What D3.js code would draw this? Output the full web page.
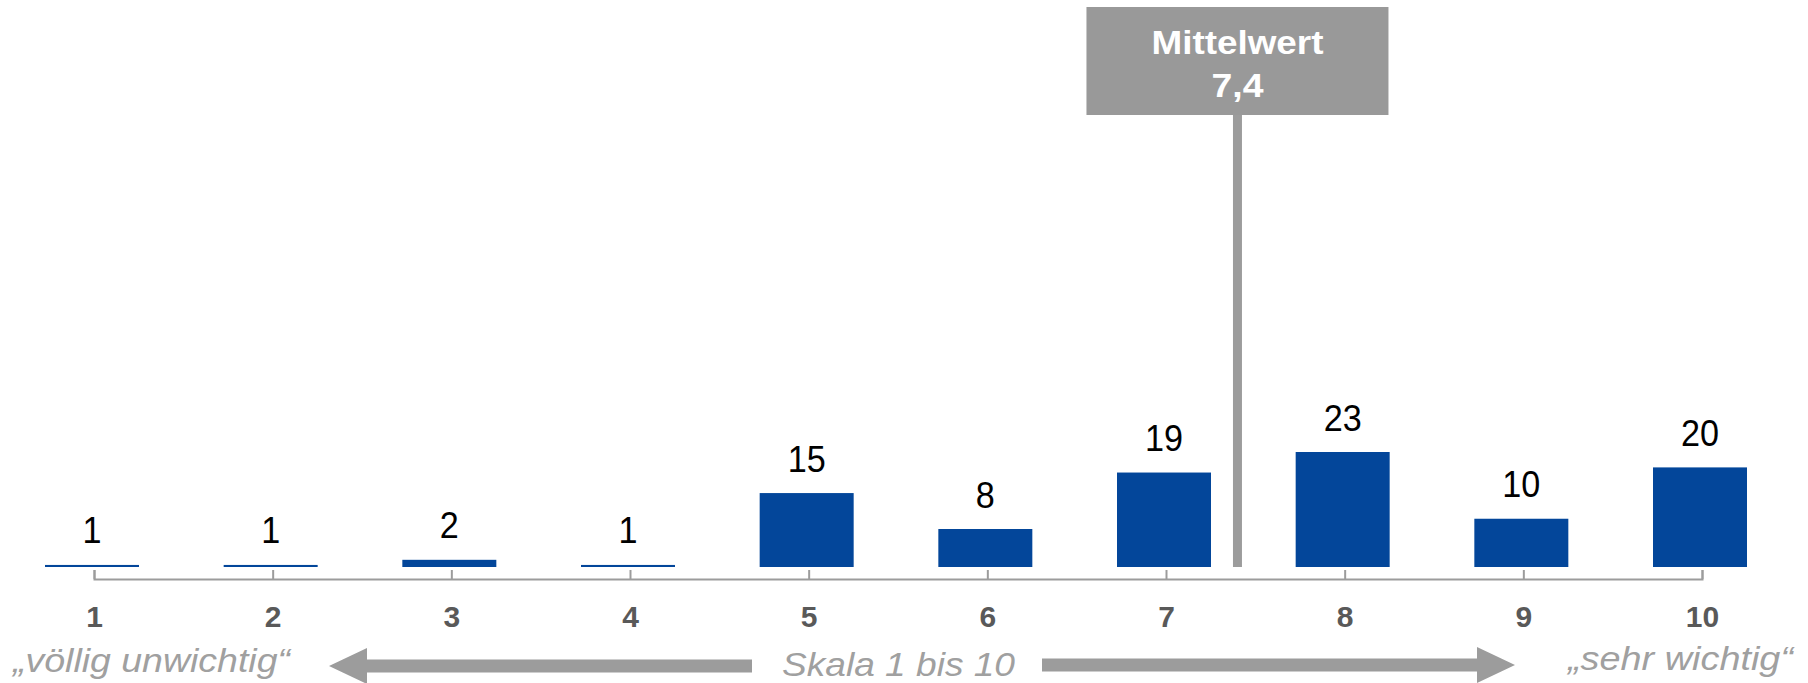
<!DOCTYPE html>
<html>
<head>
<meta charset="utf-8">
<script src="https://cdn.jsdelivr.net/npm/d3@7"></script>
<style>
    body { margin: 0; background: #fff; }
    text { font-family: "Liberation Sans", Arial, sans-serif; }
</style>
</head>
<body>
<div id="chart"></div>
<script>
const categories = [1, 2, 3, 4, 5, 6, 7, 8, 9, 10];
const values = [1, 1, 2, 1, 15, 8, 19, 23, 10, 20];
const meanValue = 7.4;
const meanLines = ["Mittelwert", "7,4"];
const scaleLeft = "\u201Evöllig unwichtig\u201C";
const scaleMid = "Skala 1 bis 10";
const scaleRight = "\u201Esehr wichtig\u201C";

const width = 1808;
const height = 683;
const baseY = 567;
const axisY = 579;
const barW = 94;
const blue = "#03469a";
const grey = "#9c9c9c";

const svg = d3.select("#chart")
    .append("svg")
    .attr("width", width)
    .attr("height", height);

const x = d3.scaleLinear().domain([1, 10]).range([94, 1702]);
// bars in the original start a bit above zero
const y = d3.scaleLinear().domain([0.6, 23]).range([baseY, 452]);

// bars
svg.selectAll("rect.bar")
    .data(values)
    .join("rect")
    .attr("class", "bar")
    .attr("x", (d, i) => x(categories[i]) - 2 - barW / 2)
    .attr("width", barW)
    .attr("y", d => y(d))
    .attr("height", d => baseY - y(d))
    .attr("fill", blue);

// value labels
svg.selectAll("text.val")
    .data(values)
    .join("text")
    .attr("class", "val")
    .attr("x", (d, i) => x(categories[i]) - 2)
    .attr("y", d => y(d) - 21.5)
    .attr("text-anchor", "middle")
    .attr("font-size", 36)
    .attr("fill", "#000")
    .attr("textLength", d => String(d).length * 19)
    .attr("lengthAdjust", "spacingAndGlyphs")
    .text(d => d);

// axis with ticks pointing up
const axis = d3.axisBottom(x)
    .tickValues(categories)
    .tickFormat(d3.format("d"))
    .tickSizeInner(-9)
    .tickSizeOuter(-9)
    .tickPadding(27);

const gAxis = svg.append("g")
    .attr("transform", `translate(0,${axisY})`)
    .call(axis);
gAxis.select(".domain").attr("stroke", grey).attr("stroke-width", 2);
gAxis.selectAll(".tick line").attr("stroke", grey).attr("stroke-width", 2);
gAxis.selectAll(".tick text")
    .attr("font-family", "Liberation Sans, Arial, sans-serif")
    .attr("font-size", 30)
    .attr("font-weight", "bold")
    .attr("fill", "#595959");

// mean marker
const boxTop = 7, boxBottom = 115, boxW = 302;
svg.append("rect")
    .attr("x", x(meanValue) - 4.5)
    .attr("y", boxBottom)
    .attr("width", 9)
    .attr("height", baseY - boxBottom)
    .attr("fill", grey);
svg.append("rect")
    .attr("x", x(meanValue) - boxW / 2)
    .attr("y", boxTop)
    .attr("width", boxW)
    .attr("height", boxBottom - boxTop)
    .attr("fill", "#999999");
svg.selectAll("text.mean")
    .data(meanLines)
    .join("text")
    .attr("class", "mean")
    .attr("x", x(meanValue))
    .attr("y", (d, i) => 53.5 + i * 43)
    .attr("text-anchor", "middle")
    .attr("font-size", 33)
    .attr("font-weight", "bold")
    .attr("fill", "#fff")
    .attr("textLength", (d, i) => i === 0 ? 172 : 52)
    .attr("lengthAdjust", "spacingAndGlyphs")
    .text(d => d);

// scale captions
const caption = [
    {t: scaleLeft, x: 13, y: 672, len: 277},
    {t: scaleMid, x: 782, y: 676, len: 233},
    {t: scaleRight, x: 1568, y: 670, len: 225}
];
svg.selectAll("text.cap")
    .data(caption)
    .join("text")
    .attr("class", "cap")
    .attr("x", d => d.x)
    .attr("y", d => d.y)
    .attr("font-size", 33)
    .attr("font-style", "italic")
    .attr("fill", "#a0a0a0")
    .attr("textLength", d => d.len)
    .attr("lengthAdjust", "spacingAndGlyphs")
    .text(d => d.t);

// arrows
function arrow(x0, x1, cy)
{
    const dir = x1 > x0 ? 1 : -1;
    const headL = 38, headH = 18, shaft = 6.5;
    const xb = x1 - dir * headL;
    return d3.line()([
        [x0, cy - shaft], [xb, cy - shaft], [xb, cy - headH], [x1, cy],
        [xb, cy + headH], [xb, cy + shaft], [x0, cy + shaft]
    ]) + "Z";
}
svg.append("path").attr("d", arrow(752, 329, 666)).attr("fill", grey);
svg.append("path").attr("d", arrow(1042, 1515, 665)).attr("fill", grey);
</script>
</body>
</html>
